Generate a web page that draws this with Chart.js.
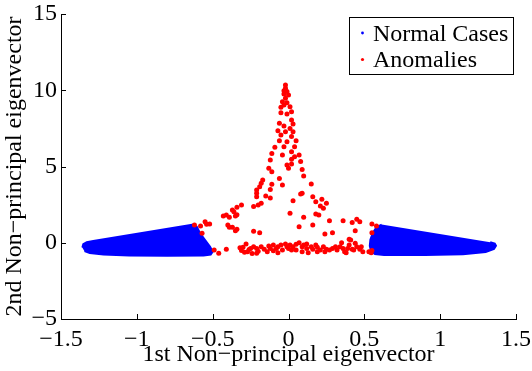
<!DOCTYPE html>
<html><head><meta charset="utf-8">
<script src="https://cdn.jsdelivr.net/npm/chart.js@4"></script>
<style>html,body{margin:0;padding:0;background:#fff}#wrap{width:532px;height:371px}</style>
</head><body><div id="wrap"><canvas id="c" width="532" height="371"></canvas></div>
<script>
const xTicks = [-1.5, -1, -0.5, 0, 0.5, 1, 1.5];
const yTicks = [-5, 0, 5, 10, 15];
const seriesLabels = ['Normal Cases', 'Anomalies'];
const xTitle = '1st Non\u2212principal eigenvector';
const yTitle = '2nd Non\u2212principal eigenvector';

// outline of the dense cloud of normal cases (left and right wedge)
const leftWedge = [[-1.359,-0.32],[-1.353,-0.10],[-1.33,0.03],[-1.287,0.11],[-0.627,1.19],[-0.605,1.05],[-0.583,0.62],[-0.55,0.18],[-0.517,-0.26],[-0.50,-0.59],[-0.513,-0.78],[-0.56,-0.84],[-0.8,-0.85],[-1.05,-0.83],[-1.22,-0.77],[-1.31,-0.67],[-1.345,-0.55]];
const rightWedge = [[0.614,1.19],[0.58,1.02],[0.556,0.65],[0.54,0.2],[0.536,-0.2],[0.545,-0.55],[0.57,-0.74],[0.63,-0.81],[0.9,-0.81],[1.15,-0.75],[1.30,-0.6],[1.355,-0.4],[1.368,-0.2],[1.36,-0.05],[1.33,0.04]];

const anomalies = [
[-0.02,10.34],[-0.02,10.13],[-0.03,9.97],[-0.01,9.91],[-0.03,9.75],[0.00,9.69],[-0.02,9.47],[-0.04,9.25],[-0.01,9.18],[-0.03,9.03],[0.01,8.92],[-0.05,8.88],[0.02,8.59],[-0.05,8.53],[-0.01,8.44],[0.02,8.05],[-0.06,7.83],[0.03,7.79],[-0.03,7.66],[0.01,7.50],[-0.07,7.35],[-0.02,7.28],[0.03,7.28],[-0.05,7.07],[0.02,6.96],[0.05,6.69],[-0.06,6.69],[-0.01,6.63],[-0.03,6.30],[-0.09,6.26],[0.04,6.30],[0.02,5.97],[0.07,5.75],[-0.11,5.86],[0.04,5.64],[-0.04,5.75],[0.02,5.47],[-0.12,5.43],[0.08,5.32],[-0.01,5.10],[0.02,5.16],[0.00,4.88],[-0.13,4.88],[0.09,4.81],[-0.11,4.66],[0.10,4.38],[-0.06,4.22],[-0.17,4.11],[-0.18,3.90],[-0.11,3.83],[-0.19,3.68],[-0.04,3.79],[0.15,3.85],[-0.21,3.46],[-0.21,3.24],[-0.12,3.50],[0.09,3.24],[-0.15,3.07],[0.08,3.20],[0.16,3.02],[-0.21,3.02],[-0.12,2.93],[0.03,2.76],[0.22,2.85],[-0.18,2.59],[-0.20,2.48],[0.18,2.69],[-0.23,2.37],[0.21,2.41],[0.25,2.59],[0.23,2.26],[-0.31,2.48],[-0.34,2.32],[-0.36,2.04],[-0.35,1.75],[0.01,1.93],[0.18,1.89],[0.20,1.82],[0.10,1.67],[0.27,1.45],[0.36,1.45],[0.07,1.05],[0.16,1.16],[-0.37,1.01],[-0.34,0.88],[-0.23,0.75],[-0.19,0.66],[0.24,0.57],[0.29,0.66],
[-0.37,2.15],[-0.43,1.75],[-0.41,1.82],[-0.39,1.67],[-0.34,1.84],[0.42,1.32],[0.45,1.54],[0.47,1.38],[0.55,1.23],[0.58,1.10],[0.55,0.66],[-0.62,1.16],[-0.58,1.10],[-0.55,1.38],[-0.52,1.23],[-0.57,0.62],[-0.54,1.21],[-0.40,1.16],[-0.39,1.01],[-0.35,0.79],[-0.49,-0.48],[-0.46,-0.69],[-0.41,-0.43],[0.44,0.78],[0.40,0.23],
[-0.30,-0.30],[-0.28,-0.08],[-0.27,-0.59],[-0.25,-0.37],[-0.23,-0.26],[-0.21,-0.69],[-0.21,-0.37],[-0.18,-0.26],[-0.16,-0.43],[-0.13,-0.21],[-0.12,-0.37],[-0.10,-0.15],[-0.07,-0.26],[-0.07,-0.65],[-0.05,-0.15],[-0.02,-0.08],[-0.01,-0.26],[0.01,-0.15],[0.02,-0.48],[0.03,-0.26],[0.05,-0.10],[0.07,0.0],[0.09,-0.26],[0.10,-0.15],[0.12,-0.37],[0.13,-0.65],[0.15,-0.26],[0.16,-0.43],[0.18,-0.15],[0.19,-0.30],[0.21,-0.48],[0.23,-0.26],[0.27,-0.48],[0.29,-0.37],[0.31,-0.26],[0.32,-0.48],[0.34,-0.26],[0.35,0.0],[0.36,-0.37],[0.37,-0.59],[0.39,-0.37],[0.40,-0.15],[0.41,0.18],[0.42,-0.43],[0.43,-0.48],[0.45,-0.26],[0.47,-0.43],[0.49,-0.59],[0.53,-0.59],[-0.10,-0.52],[-0.08,-0.37],[0.05,-0.48],[0.09,-0.59],[0.19,-0.59],[0.25,-0.43],[-0.32,-0.33],[-0.14,-0.59],[-0.04,-0.48],[0.00,-0.37],[0.12,-0.08],[0.24,-0.59],[0.38,-0.65],[0.44,-0.04],[0.48,-0.26],
[-0.31,-0.50],[-0.29,-0.62],[-0.26,-0.45],[-0.24,-0.70],[-0.20,-0.55],[0.55,-0.50],[0.545,-0.65]
];

const fmt = v => (v < 0 ? '\u2212' : '') + Math.abs(v);
const FONT = 'Liberation Serif, Times New Roman, serif';

const regionFill = {
  id: 'regionFill',
  beforeDatasetDraw(chart, args) {
    const ds = chart.data.datasets[args.index];
    if (!ds.isRegion) return;
    const ctx = chart.ctx, pts = args.meta.data;
    ctx.save();
    ctx.beginPath();
    pts.forEach((p, i) => i ? ctx.lineTo(p.x, p.y) : ctx.moveTo(p.x, p.y));
    ctx.closePath();
    ctx.fillStyle = ds.borderColor;
    ctx.fill();
    ctx.restore();
  }
};

const decor = {
  id: 'decor',
  afterDraw(chart) {
    const {ctx, scales: {x, y}, chartArea: a} = chart;
    ctx.save();
    ctx.strokeStyle = '#000';
    ctx.lineWidth = 1;
    ctx.beginPath();
    xTicks.forEach(v => { const p = Math.round(x.getPixelForValue(v)) + 0.5; ctx.moveTo(p, a.bottom); ctx.lineTo(p, a.bottom - 5); });
    yTicks.forEach(v => { const p = Math.round(y.getPixelForValue(v)) + 0.5; ctx.moveTo(a.left, p); ctx.lineTo(a.left + 5, p); });
    ctx.stroke();
    // legend
    const bx = 349.5, by = 17.5, bw = 164, bh = 57;
    ctx.fillStyle = '#fff';
    ctx.fillRect(bx, by, bw, bh);
    ctx.strokeRect(bx, by, bw, bh);
    const items = [{label: seriesLabels[0], color: '#0000ff', r: 1.4, dy: 33, ty: 40.5},
                   {label: seriesLabels[1], color: '#ff0000', r: 1.6, dy: 59.5, ty: 67}];
    ctx.font = '24px ' + FONT;
    ctx.textBaseline = 'alphabetic';
    ctx.textAlign = 'left';
    items.forEach(it => {
      ctx.fillStyle = it.color;
      ctx.beginPath(); ctx.arc(362.5, it.dy, it.r, 0, Math.PI * 2); ctx.fill();
      ctx.fillStyle = '#000';
      ctx.fillText(it.label, 373, it.ty);
    });
    ctx.restore();
  }
};

const toPts = arr => arr.map(([x, y]) => ({x, y}));

new Chart(document.getElementById('c'), {
  type: 'scatter',
  data: {
    datasets: [
      {label: seriesLabels[1], data: toPts(anomalies), backgroundColor: '#ff0000', borderColor: '#ff0000', pointRadius: 2.5, borderWidth: 0, pointHoverRadius: 2.5},
      {label: seriesLabels[0], isRegion: true, data: toPts(leftWedge), showLine: true, borderColor: '#0000ff', backgroundColor: '#0000ff', borderWidth: 2, pointRadius: 0, tension: 0},
      {label: seriesLabels[0], isRegion: true, data: toPts(rightWedge), showLine: true, borderColor: '#0000ff', backgroundColor: '#0000ff', borderWidth: 2, pointRadius: 0, tension: 0}
    ]
  },
  options: {
    responsive: false, animation: false, devicePixelRatio: 1,
    layout: {padding: {top: 14, right: 16, left: 0, bottom: 0}},
    plugins: {legend: {display: false}, tooltip: {enabled: false}},
    scales: {
      x: {
        type: 'linear', min: -1.5, max: 1.5,
        afterBuildTicks: s => { s.ticks = xTicks.map(v => ({value: v})); },
        afterFit: s => { s.height = 52; s.paddingLeft = 0; s.paddingRight = 0; },
        ticks: {callback: v => fmt(v), font: {family: FONT, size: 24}, color: '#000', padding: 6, maxRotation: 0, autoSkip: false},
        grid: {display: true, drawOnChartArea: false, drawTicks: false},
        border: {display: true, color: '#000', width: 1},
        title: {display: true, text: xTitle, font: {family: FONT, size: 24}, color: '#000', padding: {top: 0, bottom: 2}}
      },
      y: {
        type: 'linear', min: -5, max: 15,
        afterBuildTicks: s => { s.ticks = yTicks.map(v => ({value: v})); },
        afterFit: s => { s.width = 61; },
        ticks: {callback: v => fmt(v), font: {family: FONT, size: 24, lineHeight: 0.8}, color: '#000', padding: 4, autoSkip: false},
        grid: {display: true, drawOnChartArea: false, drawTicks: false},
        border: {display: true, color: '#000', width: 1},
        title: {display: true, text: yTitle, font: {family: FONT, size: 24}, color: '#000', padding: {top: 0, bottom: 0}}
      }
    }
  },
  plugins: [regionFill, decor]
});
</script>
</body></html>
